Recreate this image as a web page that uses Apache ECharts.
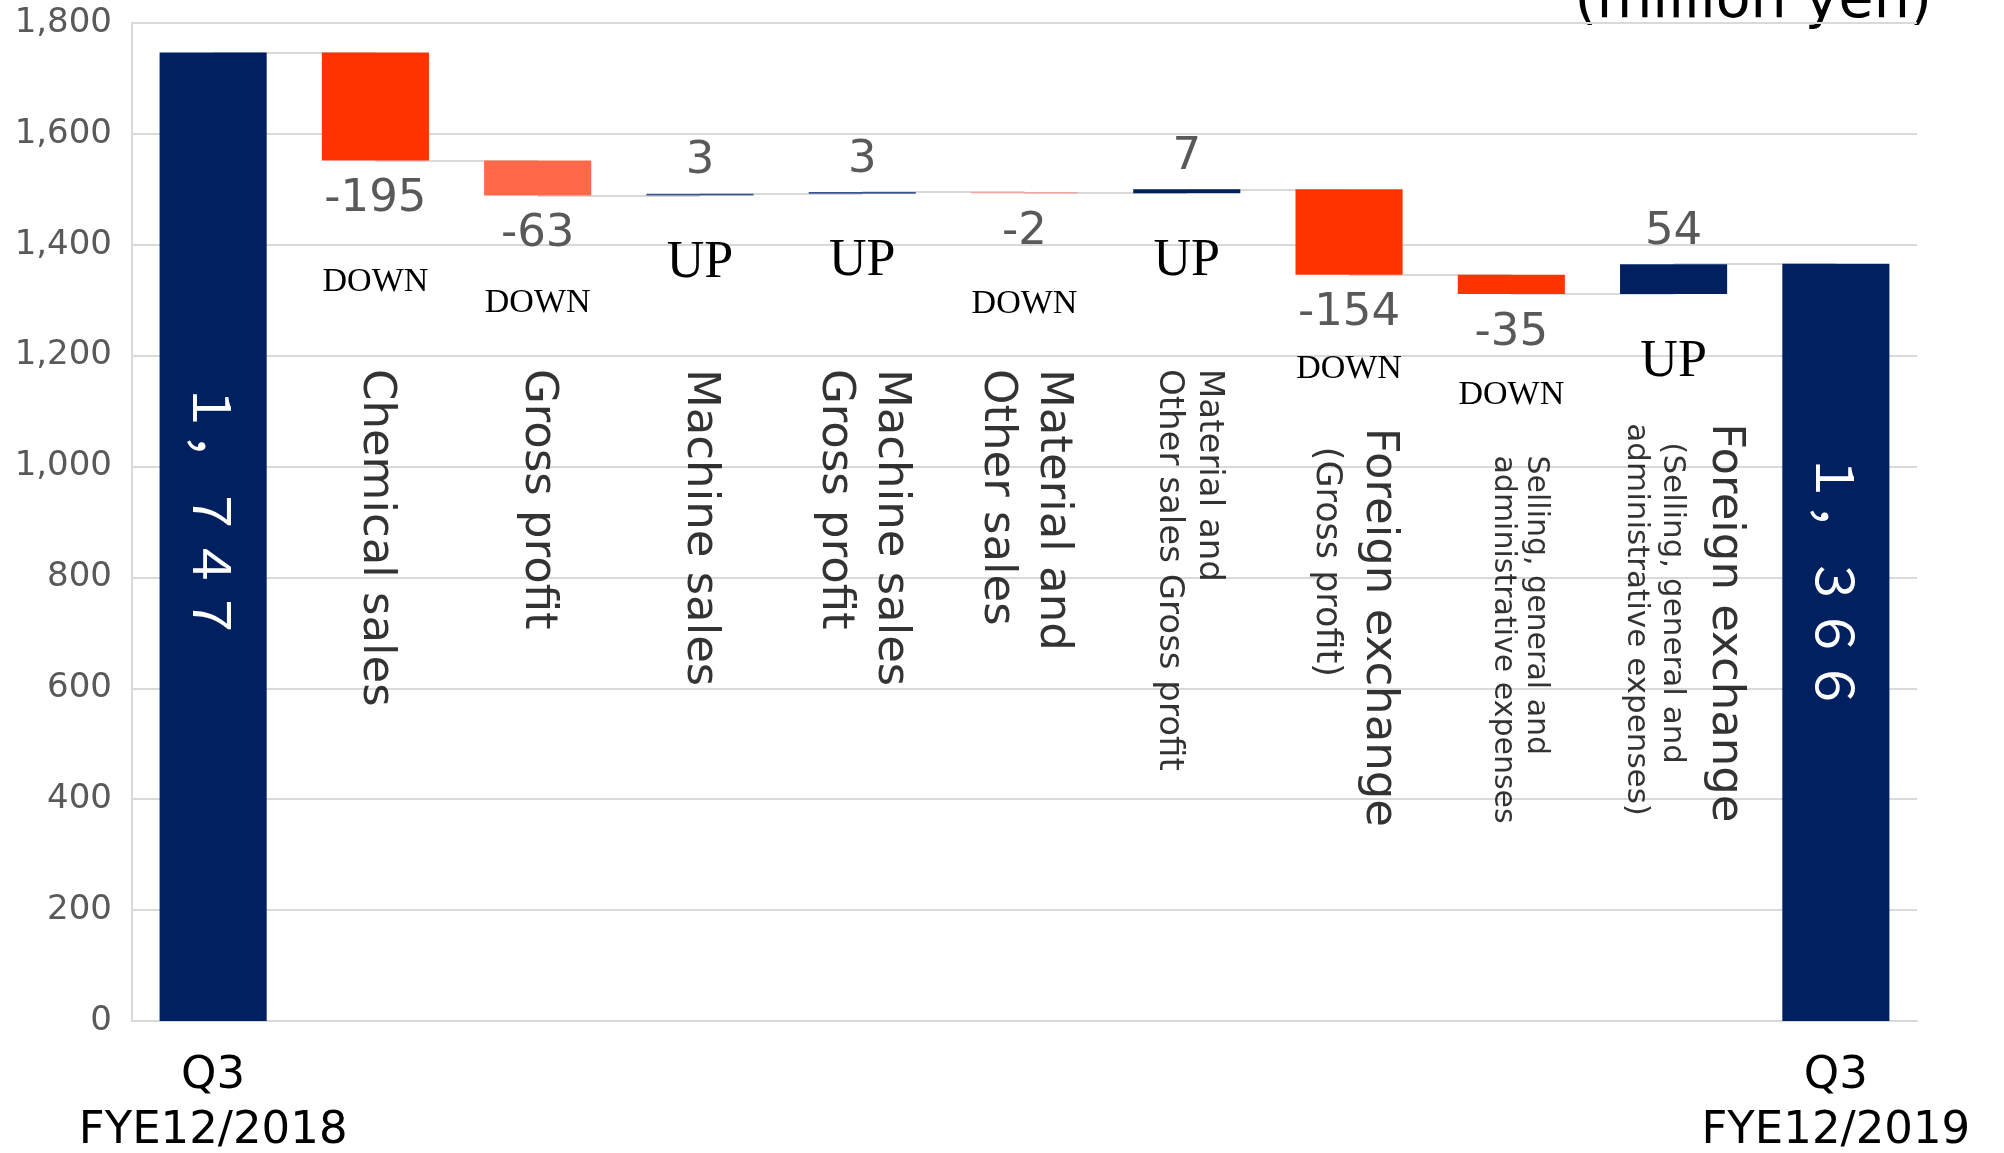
<!DOCTYPE html>
<html>
<head>
<meta charset="utf-8">
<script src="https://cdn.jsdelivr.net/npm/echarts@6/dist/echarts.min.js"></script>
<style>
  html, body { margin: 0; padding: 0; background: #fff; }
  #chart { width: 2004px; height: 1153px; }
</style>
</head>
<body>
<div id="chart"></div>
<script>
// operating income bridge (million yen)
const categories = [
  'Q3\nFYE12/2018',
  'Chemical sales',
  'Gross profit',
  'Machine sales',
  'Machine sales\nGross profit',
  'Material and\nOther sales',
  'Material and\nOther sales Gross profit',
  'Foreign exchange\n(Gross profit)',
  'Selling, general and\nadministrative expenses',
  'Foreign exchange\n(Selling, general and\nadministrative expenses)',
  'Q3\nFYE12/2019'
];
const changes = [1747, -195, -63, 3, 3, -2, 7, -154, -35, 54, 1366];
const isTotal = [true, false, false, false, false, false, false, false, false, false, true];
const yTicks = [0, 200, 400, 600, 800, 1000, 1200, 1400, 1600, 1800];

// look
const barColors = ['#002060', '#FF3300', '#FF6848', '#3B5590', '#3B5590', '#F4A3A3',
  '#002060', '#FF3300', '#FF3300', '#002060', '#002060'];
// font style of each line of the in-plot names
const nameStyle = [
  null, ['L'], ['L'], ['L'], ['L', 'L'], ['L', 'L'], ['S', 'S'],
  ['F', 'G2'], ['M', 'M'], ['F', 'X2', 'X'], null
];
// where the rotated names start (value on the y axis) and their sideways nudge in px
const nameTop = [null, 1176, 1176, 1176, 1176, 1176, 1176, 1070, 1020, 1078, null];
const nameShift = [0, 0, 0, 0, 0, 0, 2, 12, 8, 15, 0];
// gap under the -xx labels before "DOWN" (line height of the DOWN line)
const downGap = [0, 116, 88, 0, 0, 93, 0, 60, 73, 0, 0];
// where the white total labels start, px below the bar top
const totalLabelOffset = { 0: 329, 10: 188 };

const FONT = '"DejaVu Sans", sans-serif';
const SERIF = '"Liberation Serif", "DejaVu Serif", serif';

// waterfall: invisible base + visible step
const bases = [], steps = [], levels = [];
let run = 0;
changes.forEach((v, i) => {
  if (isTotal[i]) {
    bases.push(0); steps.push(v); run = v;
  } else {
    const next = run + v;
    bases.push(Math.min(run, next));
    steps.push(Math.abs(v));
    run = next;
  }
  levels.push(run);
});

const connectors = [];
for (let i = 0; i < changes.length - 1; i++) {
  connectors.push([{ coord: [i, levels[i]] }, { coord: [i + 1, levels[i]] }]);
}

const fullWidth = (n) => n.toLocaleString('en-US')
  .replace(/[0-9]/g, (d) => String.fromCharCode(d.charCodeAt(0) + 0xFEE0))
  .replace(/,/g, '，');

const nameLabel = (i) => categories[i].split('\n')
  .map((l, k) => `{${nameStyle[i][k]}|${l}}`).join('\n');

// one rich style per DOWN gap
const baseRich = {
  v: { fontFamily: FONT, fontSize: 45, lineHeight: 50, color: '#595959' },
  u: { fontFamily: SERIF, fontSize: 52, lineHeight: 108, color: '#000' }
};
downGap.forEach((g, i) => {
  if (g) baseRich['d' + i] = { fontFamily: SERIF, fontSize: 34, lineHeight: g, color: '#000' };
});

const chart = echarts.init(document.getElementById('chart'));

const option = {
  animation: false,
  backgroundColor: '#fff',
  grid: { left: 132, right: 87, top: 23, bottom: 132, containLabel: false, outerBoundsMode: 'none' },
  graphic: [{
    type: 'text',
    right: 72,
    top: -26,
    style: {
      text: '(million yen)',
      font: '57px "DejaVu Sans"',
      fill: '#000'
    }
  }],
  xAxis: {
    type: 'category',
    data: categories,
    axisTick: { show: false },
    axisLine: { lineStyle: { color: '#D9D9D9', width: 2 } },
    axisLabel: {
      interval: 0,
      margin: 28,
      fontFamily: FONT,
      fontSize: 45,
      lineHeight: 55,
      color: '#000',
      formatter: (val, idx) => (isTotal[idx] ? val : '')
    }
  },
  yAxis: {
    type: 'value',
    min: yTicks[0],
    max: yTicks[yTicks.length - 1],
    interval: yTicks[1] - yTicks[0],
    axisLine: { show: true, lineStyle: { color: '#D9D9D9', width: 2 } },
    axisTick: { show: false },
    splitLine: { lineStyle: { color: '#D9D9D9', width: 2 } },
    axisLabel: {
      margin: 20,
      fontFamily: FONT,
      fontSize: 34,
      color: '#595959',
      formatter: (v) => v.toLocaleString('en-US')
    }
  },
  series: [
    {
      name: 'base',
      type: 'bar',
      stack: 'wf',
      barWidth: '66%',
      silent: true,
      itemStyle: { color: 'transparent' },
      data: bases,
      label: {
        show: true,
        position: 'insideTop',
        distance: 14,
        formatter: (p) => {
          const i = p.dataIndex;
          const v = changes[i];
          if (isTotal[i]) return '';
          return v < 0 ? `{v|${v}}\n{d${i}|DOWN}` : '{u|UP}';
        },
        rich: baseRich
      },
      markLine: {
        silent: true,
        z: 1,
        symbol: 'none',
        label: { show: false },
        lineStyle: { color: '#D9D9D9', width: 2, type: 'solid' },
        data: connectors
      }
    },
    {
      name: 'step',
      type: 'bar',
      stack: 'wf',
      barWidth: '66%',
      z: 3,
      data: steps.map((v, i) => {
        const item = { value: v, itemStyle: { color: barColors[i] } };
        if (isTotal[i]) {
          item.label = {
            show: true,
            position: ['50%', totalLabelOffset[i]],
            rotate: -90,
            align: 'left',
            verticalAlign: 'middle',
            fontFamily: '"Noto Sans CJK JP"',
            fontSize: 52,
            color: '#fff',
            formatter: () => fullWidth(changes[i])
          };
        }
        return item;
      }),
      label: {
        show: true,
        position: 'top',
        distance: 7,
        fontFamily: FONT,
        fontSize: 45,
        lineHeight: 50,
        color: '#595959',
        formatter: (p) => {
          const v = changes[p.dataIndex];
          return !isTotal[p.dataIndex] && v > 0 ? String(v) : '';
        }
      }
    },
    {
      name: 'names',
      type: 'scatter',
      symbolSize: 0,
      silent: true,
      z: 4,
      // label offset works in the rotated frame: -y moves the text right on screen
      data: nameTop.map((y, i) => (y == null ? null : {
        value: [i, y],
        label: { offset: [0, -nameShift[i]] }
      })).filter((d) => d),
      label: {
        show: true,
        position: [0, 0],
        rotate: -90,
        align: 'left',
        verticalAlign: 'middle',
        formatter: (p) => nameLabel(p.value[0]),
        rich: {
          L: { fontFamily: FONT, fontSize: 45, lineHeight: 56, color: '#000' },
          S: { fontFamily: FONT, fontSize: 34, lineHeight: 40, color: '#000' },
          M: { fontFamily: FONT, fontSize: 30, lineHeight: 33, color: '#000' },
          F: { fontFamily: FONT, fontSize: 45, lineHeight: 70, color: '#000' },
          G2: { fontFamily: FONT, fontSize: 35, lineHeight: 36, color: '#000', padding: [0, 0, 0, 19] },
          X2: { fontFamily: FONT, fontSize: 31, lineHeight: 36, color: '#000', padding: [0, 0, 0, 19] },
          X: { fontFamily: FONT, fontSize: 31, lineHeight: 36, color: '#000' }
        }
      }
    }
  ]
};

chart.setOption(option);
</script>
</body>
</html>
